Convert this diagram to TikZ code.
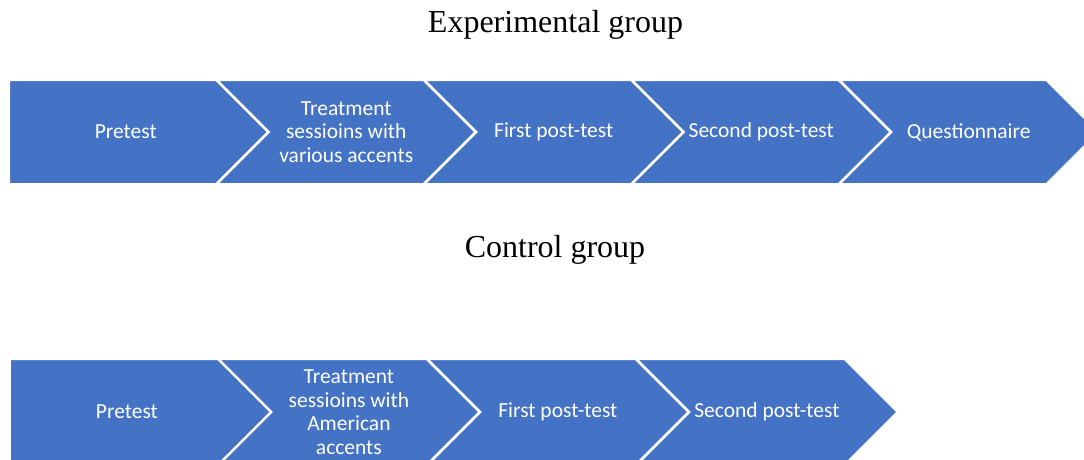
\documentclass[tikz,border=0pt]{standalone}
\usepackage{fontspec}
\setmainfont{Carlito}
\newfontfamily\titlefont{Liberation Serif}
\usepackage{xcolor}
\usetikzlibrary{shapes.symbols}
\definecolor{stageblue}{HTML}{4472C4}

\tikzset{
  stage/.style={signal, signal to=east, signal from=west, signal pointer angle=90,
    fill=stageblue, draw=white, line width=2.5pt, text=white, inner sep=0pt,
    minimum width=260pt, minimum height=104.5pt, align=center,
    font=\fontsize{21.5}{23.5}\selectfont},
  firststage/.style={stage, signal from=nowhere},
  heading/.style={anchor=base, font=\titlefont\fontsize{32}{38}\selectfont}
}

\begin{document}
\begin{tikzpicture}[x=1pt, y=-1pt]
  \useasboundingbox (0,0) rectangle (1084,459);
  \clip (0,0) rectangle (1084,459);

  % experimental group
  \node[heading] (exptitle) at (555.5,32) {Experimental group};
  \node[firststage, minimum width=286pt] (epre) at (125.75,132) {Pretest};
  \node[stage] (etreat) at (346.25,132) {Treatment\\sessioins with\\various accents};
  \node[stage] (epost1) at (553.75,132) {First post-test};
  \node[stage] (epost2) at (761.25,132) {Second post-test};
  \node[stage] (equest) at (968.75,132) {Questionnaire};

  % control group
  \node[heading] (ctltitle) at (555,257) {Control group};
  \node[firststage, minimum width=288pt, minimum height=106.5pt] (cpre) at (126.9,412) {Pretest};
  \node[stage, minimum width=262pt, minimum height=106.5pt] (ctreat) at (348.9,412) {Treatment\\sessioins with\\American\\accents};
  \node[stage, minimum width=262pt, minimum height=106.5pt] (cpost1) at (557.9,412) {First post-test};
  \node[stage, minimum width=262pt, minimum height=106.5pt] (cpost2) at (766.9,412) {Second post-test};
\end{tikzpicture}
\end{document}
